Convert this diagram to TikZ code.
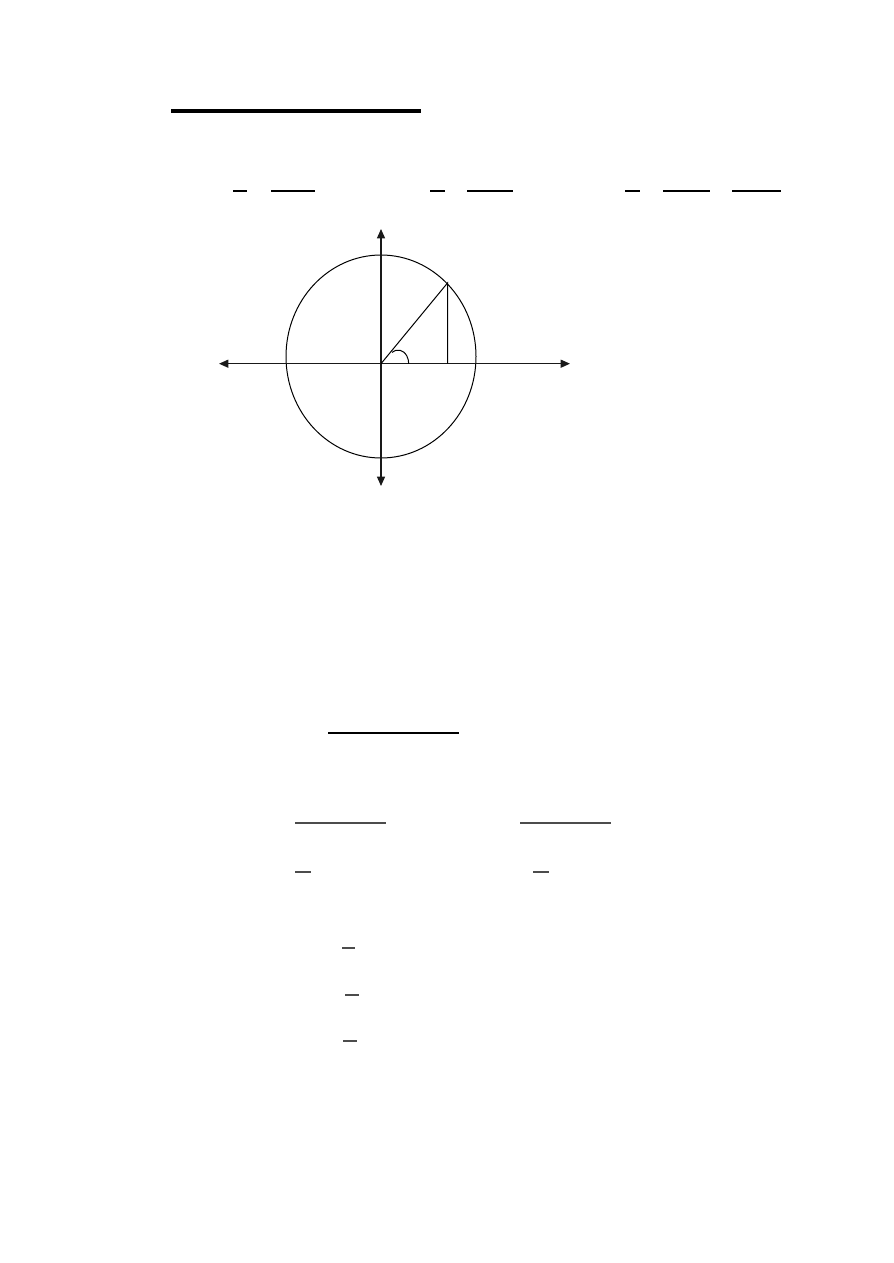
\documentclass[tikz,border=0pt]{standalone}
\usetikzlibrary{arrows.meta}
\begin{document}
\begin{tikzpicture}[x=0.75pt,y=-0.75pt,
  rule/.style={line width=0.8pt,black},
  greyrule/.style={line width=0.8pt,black!70},
  thin/.style={line width=0.75pt,black},
  axis/.style={line width=1pt,black!90,{Triangle[length=7pt,width=6pt]}-{Triangle[length=7pt,width=6pt]}}]
\useasboundingbox (0,0) rectangle (893,1263);
% heading underline
\draw[line width=2.3pt] (171,111) -- (421,111);
% fraction bars row
\draw[rule] (233,191) -- (247,191);
\draw[rule] (271,191) -- (315,191);
\draw[rule] (430,191) -- (445,191);
\draw[rule] (467,191) -- (513,191);
\draw[rule] (625,191) -- (640,191);
\draw[rule] (663,191) -- (710,191);
\draw[rule] (732,191) -- (781,191);
% unit circle diagram
\coordinate (O) at (381,363.7);
\coordinate (L) at (219,363.7);
\coordinate (R) at (570,363.7);
\coordinate (T) at (381,229);
\coordinate (B) at (381,486);
\coordinate (P) at (447.5,283);
\coordinate (F) at (447.5,363.7);
\draw[thin] (381,356.5) ellipse [x radius=95, y radius=101.5];
\draw[axis] (L) -- (R);
\draw[axis] (B) -- (T);
\draw[thin] (O) -- (P) -- (F);
\draw[thin] (398,363.7) ++(-124:10.7 and 13.7) arc[start angle=-124,end angle=0,x radius=10.7,y radius=13.7];
% lower fraction bars
\draw[rule] (328,733) -- (459,733);
\draw[greyrule] (295,823) -- (386,823);
\draw[greyrule] (520,823) -- (611,823);
\draw[greyrule] (295,872) -- (311,872);
\draw[greyrule] (533,872) -- (549,872);
\draw[greyrule] (342,948) -- (355,948);
\draw[greyrule] (345,995) -- (359,995);
\draw[greyrule] (343,1041) -- (357,1041);
\end{tikzpicture}
\end{document}
